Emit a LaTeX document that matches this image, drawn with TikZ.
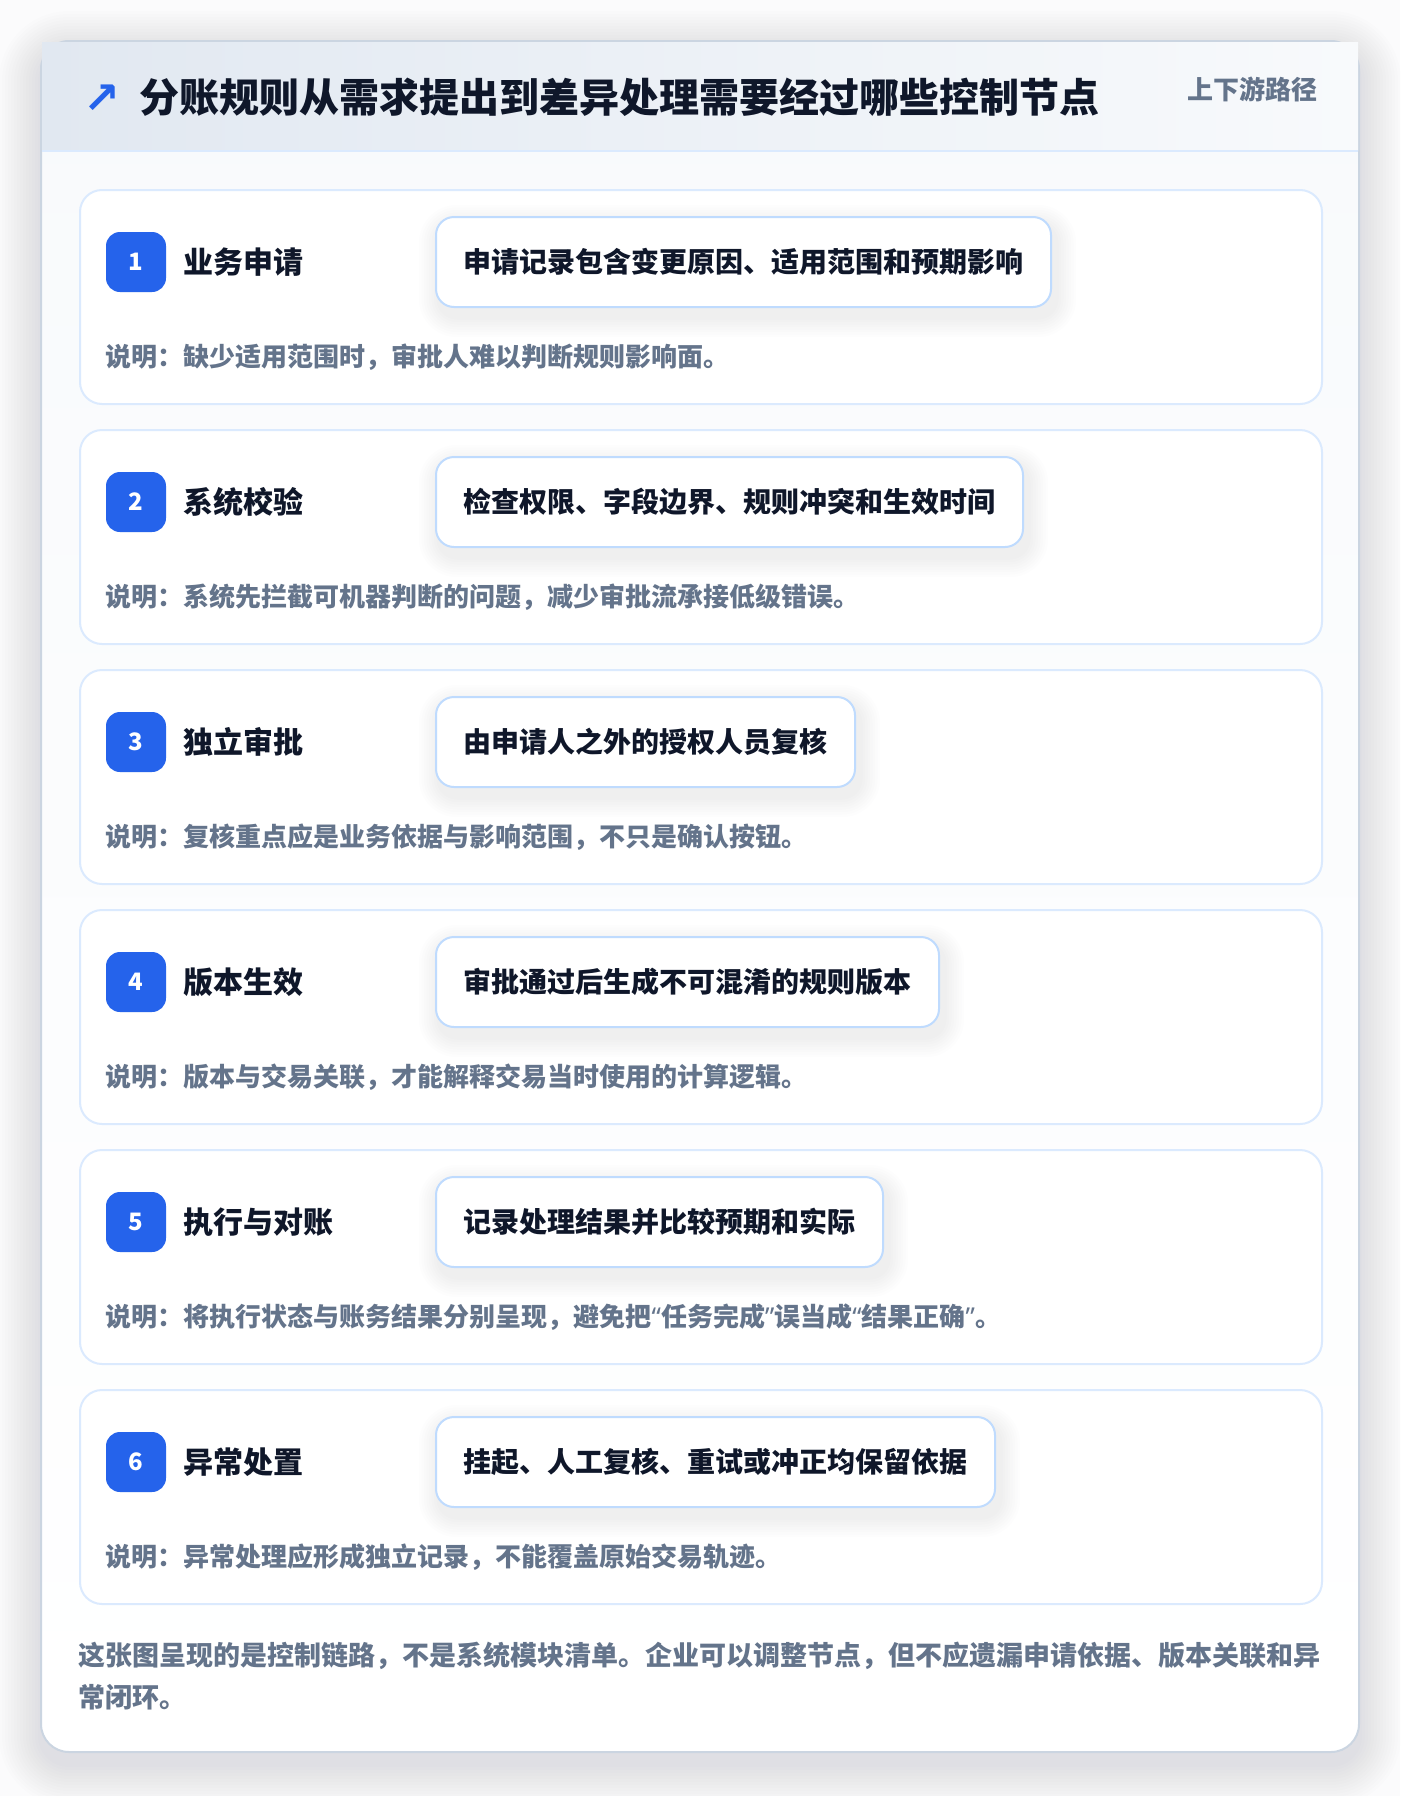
\documentclass[tikz,border=0pt]{standalone}
\usepackage{fontspec}
\setmainfont{Noto Sans CJK SC}
\newfontfamily\symfont{DejaVu Sans}
\newfontfamily\latinf{Noto Sans}
\usetikzlibrary{calc}
\definecolor{ink}{HTML}{0F172A}
\definecolor{muted}{HTML}{64748B}
\definecolor{brand}{HTML}{2563EB}
\definecolor{cardline}{HTML}{DBEAFE}
\definecolor{boxline}{HTML}{BFDBFE}
\definecolor{outline}{HTML}{CBD5E1}
\definecolor{hdrL}{HTML}{E1E8F1}
\definecolor{hdrR}{HTML}{F8FAFC}
\definecolor{bodytop}{HTML}{F8FAFC}
\definecolor{bodybot}{HTML}{FFFFFF}
\definecolor{pagebg}{HTML}{FBFBFC}
\definecolor{shadowc}{HTML}{475569}
\definecolor{boxshadow}{HTML}{64748B}
\pgfdeclarelayer{pageL}
\pgfdeclarelayer{cardL}
\pgfdeclarelayer{shadowL}
\pgfsetlayers{pageL,cardL,shadowL,main}
\newcommand\qopen{{\latinf “}}
\newcommand\qclose{{\latinf ”}}
\tikzset{
  cardbox/.style={draw=cardline, line width=2pt, fill=white, rounded corners=22pt, inner sep=0pt},
  badgebox/.style={fill=brand, rounded corners=14pt, minimum size=60pt, inner sep=0pt, text=white,
    font=\bfseries\fontsize{24}{24}\selectfont},
  labeltext/.style={inner sep=0pt, anchor=west, text=ink, font=\bfseries\fontsize{30}{30}\selectfont},
  stepbox/.style={draw=boxline, line width=2pt, fill=white, rounded corners=18pt, minimum height=90pt,
    inner xsep=27.5pt, inner ysep=0pt, anchor=west, text=ink, font=\bfseries\fontsize{28}{28}\selectfont},
  notetext/.style={inner sep=0pt, anchor=west, text=muted, font=\bfseries\fontsize{26}{26}\selectfont},
}
\begin{document}
\begin{tikzpicture}[x=1pt,y=-1pt]
\useasboundingbox (0,0) rectangle (1400,1796);
\begin{pgfonlayer}{pageL}
  \fill[pagebg] (0,0) rectangle (1400,1796);
  \foreach \k in {1,...,14}{
    \fill[shadowc, opacity=0.007, rounded corners={28pt+\k*3pt}]
      (41-\k*3, 41-\k*3+12) rectangle (1359+\k*3, 1752+\k*3+12);
  }
  \fill[bottom color=bodybot, top color=bodytop, rounded corners=28pt] (41,41) rectangle (1359,1752);
  \draw[outline, line width=2pt, rounded corners=28pt] (41,41) rectangle (1359,1752);
  \fill[left color=hdrL, right color=hdrR] (42,42) rectangle (1358,150);
  \draw[cardline, line width=2pt] (42,151) -- (1358,151);
\end{pgfonlayer}

\node[text=brand, inner sep=0pt, font=\symfont\bfseries\fontsize{44}{44}\selectfont] (icon) at (102,99) {↗};
\node[inner sep=0pt, anchor=west, text=ink, font=\bfseries\fontsize{40}{40}\selectfont] (title) at (139,97)
  {分账规则从需求提出到差异处理需要经过哪些控制节点};
\node[inner sep=0pt, anchor=east, text=muted, font=\bfseries\fontsize{26}{26}\selectfont] (tag) at (1318,89)
  {上下游路径};

\foreach \i/\lab/\boxt/\note in {
  1/{业务申请}/{申请记录包含变更原因、适用范围和预期影响}/{说明：缺少适用范围时，审批人难以判断规则影响面。},
  2/{系统校验}/{检查权限、字段边界、规则冲突和生效时间}/{说明：系统先拦截可机器判断的问题，减少审批流承接低级错误。},
  3/{独立审批}/{由申请人之外的授权人员复核}/{说明：复核重点应是业务依据与影响范围，不只是确认按钮。},
  4/{版本生效}/{审批通过后生成不可混淆的规则版本}/{说明：版本与交易关联，才能解释交易当时使用的计算逻辑。},
  5/{执行与对账}/{记录处理结果并比较预期和实际}/{说明：将执行状态与账务结果分别呈现，避免把\qopen 任务完成\qclose 误当成\qopen 结果正确\qclose 。},
  6/{异常处置}/{挂起、人工复核、重试或冲正均保留依据}/{说明：异常处理应形成独立记录，不能覆盖原始交易轨迹。}}{
  \pgfmathsetmacro\t{189+240*(\i-1)}
  \begin{pgfonlayer}{cardL}
    \node[cardbox, minimum width=1242pt, minimum height=214pt, anchor=north west] (card\i) at (79,\t) {};
  \end{pgfonlayer}
  \node[badgebox] (badge\i) at (136,\t+73) {\i};
  \node[labeltext] (lab\i) at (183,\t+73) {\lab};
  \node[stepbox] (box\i) at (435,\t+73) {\boxt};
  \node[notetext] (note\i) at (105.5,\t+168) {\note};
  \begin{pgfonlayer}{shadowL}
    \foreach \k in {1,...,8}{
      \fill[boxshadow, opacity=0.012, rounded corners={18pt+\k*2.5pt}]
        ($(box\i.north west)+(-\k*2.5+4,-\k*2.5+9)$) rectangle ($(box\i.south east)+(\k*2.5+4,\k*2.5+9)$);
    }
  \end{pgfonlayer}
}

\node[inner sep=0pt, anchor=north west, align=left, text=muted, font=\bfseries\fontsize{27}{41.5}\selectfont] (foot) at (78,1642)
  {这张图呈现的是控制链路，不是系统模块清单。企业可以调整节点，但不应遗漏申请依据、版本关联和异\\常闭环。};
\end{tikzpicture}
\end{document}
